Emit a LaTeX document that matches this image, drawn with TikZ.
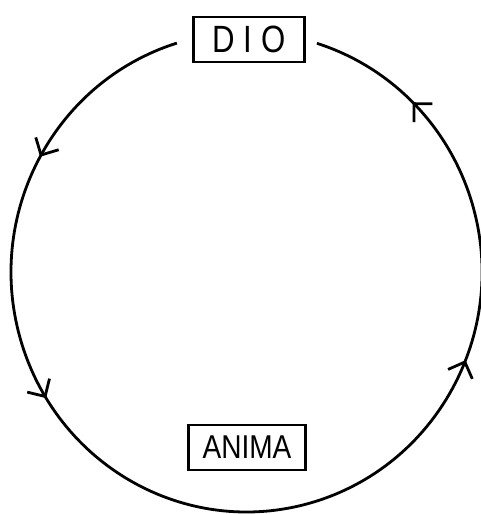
\documentclass[tikz,border=0pt]{standalone}
\usepackage{fontspec}
\setmainfont{Liberation Sans}
\usepackage{graphicx}
\usetikzlibrary{arrows.meta,decorations.markings}
\tikzset{flowtip/.tip={Straight Barb[length=13pt,width=26pt]}}
\begin{document}
\begin{tikzpicture}[x=1pt,y=1pt,
  labelbox/.style={draw, line width=2.6pt, inner sep=0pt, minimum width=111pt, minimum height=45pt},
  loopline/.style={line width=2.8pt, postaction={decorate},
    decoration={markings,
      mark=at position 0.135 with {\arrow{flowtip}},
      mark=at position 0.322 with {\arrow{flowtip}},
      mark=at position 0.71 with {\arrow{flowtip}},
      mark=at position 0.916 with {\arrow{flowtip}}}}]
\useasboundingbox (0,0) rectangle (481,514);
\node[labelbox] (dio) at (249,474.5) {\scalebox{0.82}[1]{\fontsize{38}{38}\selectfont D I O}};
\node[labelbox, minimum width=117pt] (anima) at (247,66.5) {\scalebox{0.85}[1]{\fontsize{33}{33}\selectfont ANIMA}};
\coordinate (loopstart) at (176.9,470.9);
\draw[loopline] (loopstart) arc[start angle=107.2, end angle=432.6, x radius=235.5, y radius=239.8];
\end{tikzpicture}
\end{document}
